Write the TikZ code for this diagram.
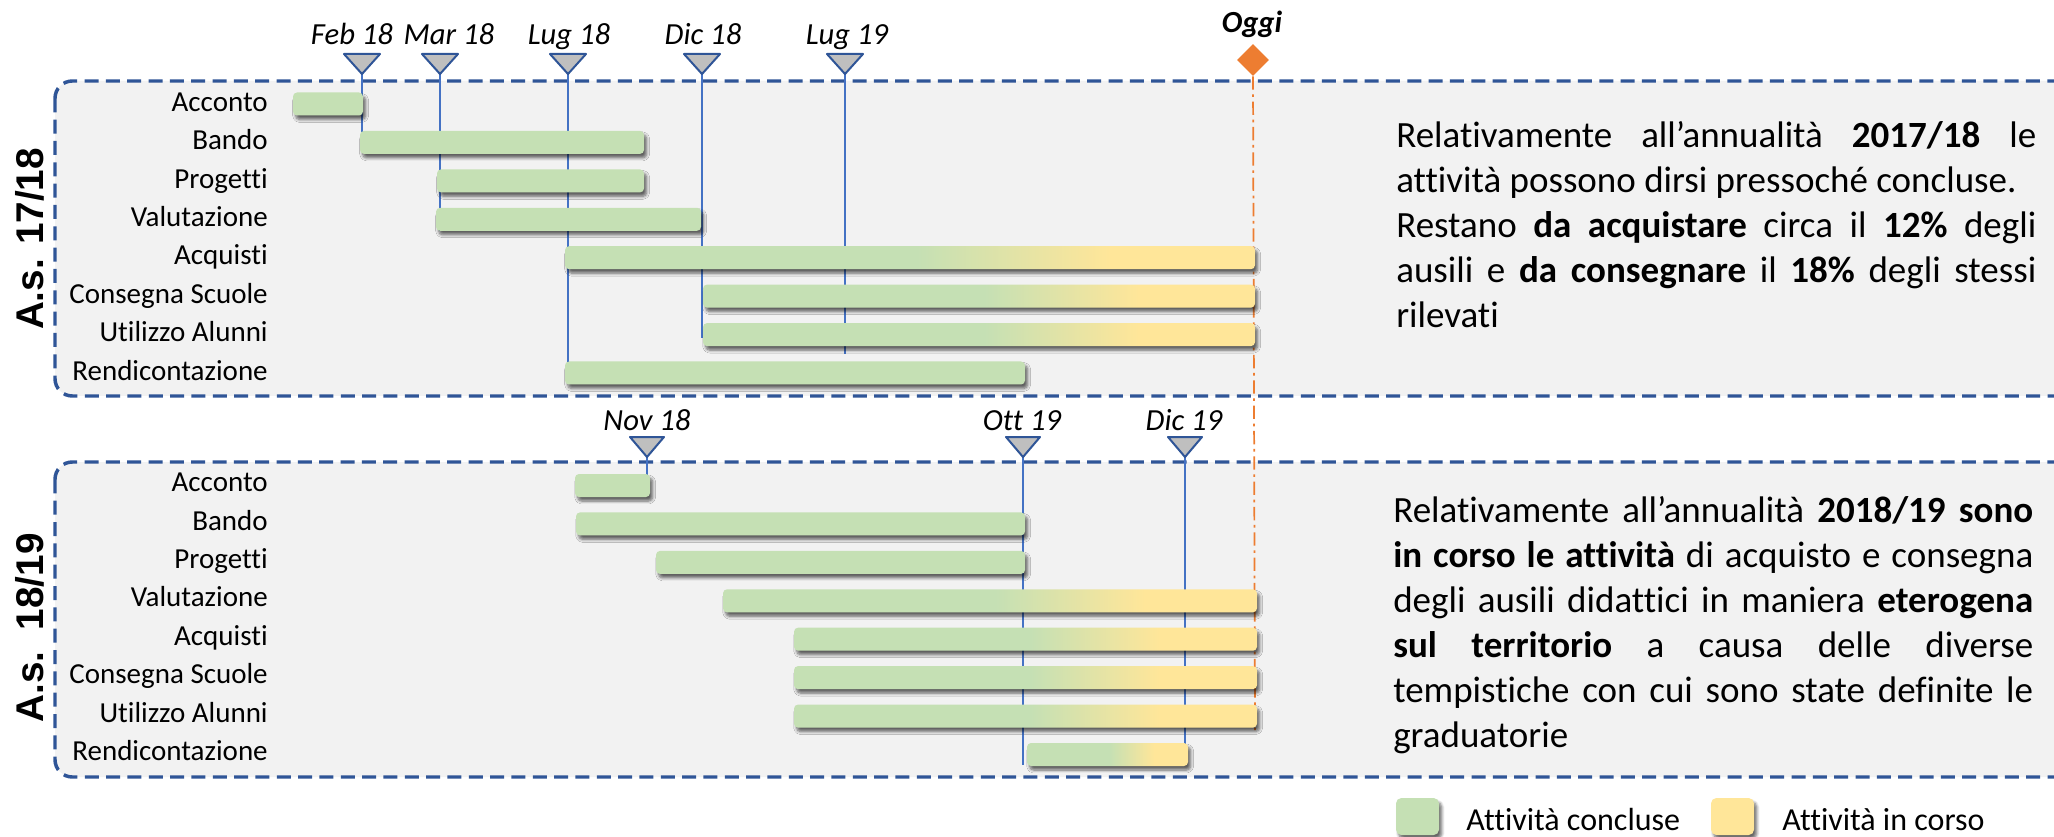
\documentclass[tikz,border=0pt]{standalone}
\usepackage{fontspec}
\setmainfont{Carlito}[Ligatures=NoCommon]
\newfontfamily\arialf{Liberation Sans}
\usetikzlibrary{shapes.geometric,shadows,shadows.blur}
\definecolor{cG}{HTML}{C5E0B4}
\definecolor{cY}{HTML}{FFE699}
\definecolor{cBox}{HTML}{2F5597}
\definecolor{cLine}{HTML}{4472C4}
\definecolor{cBg}{HTML}{F2F2F2}
\definecolor{cTri}{HTML}{BFBFBF}
\definecolor{cOr}{HTML}{ED7D31}
\pgfdeclarehorizontalshading{gy}{100bp}{color(0bp)=(cG); color(50.5bp)=(cG); color(64.5bp)=(cY); color(100bp)=(cY)}
\tikzset{
  bar/.style={rounded corners=3pt, blur shadow={shadow xshift=2pt, shadow yshift=-3pt, shadow blur radius=2.2pt, shadow blur steps=6, shadow opacity=60}},
  barg/.style={bar, fill=cG},
  bary/.style={bar, shading=gy},
  lbl/.style={anchor=mid east, inner sep=0pt, font=\fontsize{21.75}{24}\selectfont},
  datel/.style={anchor=base, inner sep=0pt, font=\fontsize{23}{25}\selectfont\itshape},
  vline/.style={draw=cLine, line width=1.4pt},
  tri/.style={draw=cBox, fill=cTri, line width=1.5pt, line join=round},
  sect/.style={draw=cBox, fill=cBg, line width=2.6pt, dash pattern=on 10.5pt off 5.5pt, rounded corners=13pt},
  oline/.style={draw=cOr, line width=1.3pt, dash pattern=on 10pt off 3.5pt on 2pt off 3.5pt},
  asl/.style={rotate=90, inner sep=0pt, font=\arialf\bfseries\fontsize{29}{30}\selectfont},
  txt/.style={anchor=north west, inner sep=0pt, text width=480pt, align=justify, font=\fontsize{27.75}{33.75}\selectfont},
  leg/.style={anchor=base west, inner sep=0pt, font=\fontsize{24}{26}\selectfont},
}
\newcommand{\gbar}[4]{\path[#4] (#1,#3-11.5) rectangle (#2,#3+11.5);}
\begin{document}
\begin{tikzpicture}[x=0.75pt,y=-0.75pt]
\useasboundingbox (0,0) rectangle (2054,837);
% section boxes
\path[sect] (55,81) rectangle (2075,396);
\path[sect] (55,462) rectangle (2075,777);
\node[asl] (as1) at (30,239) {A.s. 17/18};
\node[asl] (as2) at (30,628) {A.s.~~18/19};
% vertical milestone lines (top)
\foreach \x/\n/\e in {362/feb/152, 440/mar/231, 568/lugA/372, 702/dic/338, 845/lugB/354}{
  \coordinate (m\n) at (\x,74);
  \coordinate (e\n) at (\x,\e);
  \draw[vline] (m\n) -- (e\n);
}
\foreach \x/\n/\e in {647/nov/476, 1023/ott/765, 1185/dicB/765}{
  \coordinate (m\n) at (\x,457);
  \coordinate (e\n) at (\x,\e);
  \draw[vline] (m\n) -- (e\n);
}
% today line
\node[diamond, fill=cOr, inner sep=0pt, minimum width=24pt, minimum height=24pt] (oggi) at (1253,60) {};
\coordinate (oend) at (1255,730);
\draw[oline] (oggi.south) -- (oend);
\node[anchor=base, inner sep=0pt, font=\fontsize{23}{25}\selectfont\bfseries\itshape] (oggiT) at (1252,33) {Oggi};
% row labels
\foreach \t [count=\i from 0] in {Acconto,Bando,Progetti,Valutazione,Acquisti,Consegna Scuole,Utilizzo Alunni,Rendicontazione}{
  \node[lbl] (ta\i) at (268,108+38.43*\i) {\t};
  \node[lbl] (tb\i) at (268,488.5+38.43*\i) {\t};
}
% bars top
\gbar{293}{363}{104}{barg}
\gbar{360}{644}{142.4}{barg}
\gbar{437}{644}{180.9}{barg}
\gbar{436}{701}{219.3}{barg}
\gbar{565}{1255}{257.7}{bary}
\gbar{703}{1255}{296.1}{bary}
\gbar{703}{1255}{334.6}{bary}
\gbar{565}{1025}{373}{barg}
% bars bottom
\gbar{575}{650}{485.5}{barg}
\gbar{576}{1025}{523.9}{barg}
\gbar{656}{1025}{562.4}{barg}
\gbar{723}{1257}{600.8}{bary}
\gbar{794}{1257}{639.2}{bary}
\gbar{794}{1257}{677.6}{bary}
\gbar{794}{1257}{716.1}{bary}
\gbar{1027}{1188}{754.5}{bary}
% markers
\foreach \n/\lx/\t in {feb/352/Feb 18, mar/449/Mar 18, lugA/569/Lug 18, dic/703/Dic 18, lugB/847/Lug 19}{
  \draw[tri] (m\n) -- ++(-18,-20) -- ++(36,0) -- cycle;
  \node[datel] (l\n) at (\lx,45) {\t};
}
\foreach \n/\lx/\t in {nov/647/Nov 18, ott/1022/Ott 19, dicB/1184/Dic 19}{
  \draw[tri] (m\n) -- ++(-17,-20) -- ++(34,0) -- cycle;
  \node[datel] (l\n) at (\lx,431) {\t};
}
% texts
\node[txt] (txt1) at (1396,121) {Relativamente all’annualità \textbf{2017/18} le\linebreak attività possono dirsi pressoché concluse.\par Restano \textbf{da acquistare} circa il \textbf{12\%} degli\linebreak ausili e \textbf{da consegnare} il \textbf{18\%} degli stessi\linebreak rilevati};
\node[txt] (txt2) at (1393,496) {Relativamente all’annualità \textbf{2018/19 sono}\linebreak \textbf{in corso le attività} di acquisto e consegna\linebreak degli ausili didattici in maniera \textbf{eterogena}\linebreak \textbf{sul territorio} a causa delle diverse\linebreak tempistiche con cui sono state definite le\linebreak graduatorie};
% legend
\path[barg, rounded corners=4pt] (1396,798) rectangle (1439,835);
\node[leg] (lg1) at (1466,830) {Attività concluse};
\path[bar, fill=cY, rounded corners=4pt] (1711,798) rectangle (1754,835);
\node[leg] (lg2) at (1782,830) {Attività in corso};
\end{tikzpicture}
\end{document}
